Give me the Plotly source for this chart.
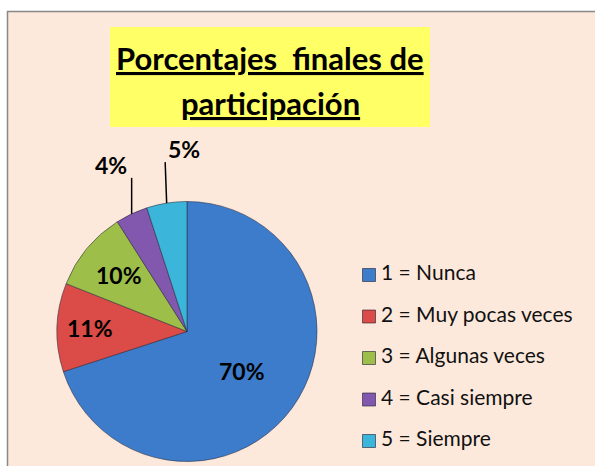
import math
import plotly.graph_objects as go

# Survey results: share of answers per frequency level
categories = ["1 = Nunca", "2 = Muy pocas veces", "3 = Algunas veces",
              "4 = Casi siempre", "5 = Siempre"]
percentages = [70, 11, 10, 4, 5]
slice_colors = ["#3D7CCB", "#DB4B47", "#9DBF4A", "#8257AE", "#3BB6DA"]
title_lines = ["Porcentajes  finales de", "participación"]

W, H = 595, 466
FONT = "Lato"

# pie geometry in pixels
cx, cy, r = 187, 331.5, 130

fig = go.Figure()

fig.add_trace(go.Pie(
    labels=categories,
    values=percentages,
    sort=False,
    direction="clockwise",
    rotation=0,
    marker=dict(colors=slice_colors, line=dict(color="rgba(40,40,60,0.55)", width=1)),
    textinfo="none",
    showlegend=False,
    hoverinfo="label+percent",
    domain=dict(x=[(cx - r) / W, (cx + r) / W],
                y=[(H - cy - r) / H, (H - cy + r) / H]),
))

# overlay axes in pixel units for legend and labels
fig.update_layout(
    xaxis=dict(range=[0, W], visible=False, fixedrange=True),
    yaxis=dict(range=[H, 0], visible=False, fixedrange=True),
)

# slice label positions derived from the values
label_font = dict(family=FONT, size=23, color="#000000")
total = sum(percentages)
cum = 0
inside_frac = {0: 0.52, 1: 0.75, 2: 0.68}
outside_len = {3: 36, 4: 41}
for i, v in enumerate(percentages):
    mid = (cum + v / 2) / total * 2 * math.pi
    cum += v
    sx, sy = math.sin(mid), -math.cos(mid)
    label = f"<b>{round(v / total * 100)}%</b>"
    if i in inside_frac:
        f = inside_frac[i]
        fig.add_annotation(x=cx + sx * r * f, y=cy + sy * r * f, xref="x", yref="y",
                           text=label, showarrow=False, font=label_font)
    else:
        ex, ey = cx + sx * r, cy + sy * r
        L = outside_len[i]
        tx, ty = (ex - 1.5 if i == 4 else ex), ey - L
        fig.add_shape(type="line", xref="x", yref="y", x0=ex, y0=ey, x1=tx, y1=ty,
                      line=dict(color="#000000", width=1.5))
        if i == 4:
            fig.add_annotation(x=tx + 1, y=ty + 3, xref="x", yref="y", xanchor="left",
                               yanchor="bottom", text=label, showarrow=False,
                               font=label_font)
        else:
            fig.add_annotation(x=tx - 3, y=ty + 3, xref="x", yref="y", xanchor="right",
                               yanchor="bottom", text=label, showarrow=False,
                               font=label_font)

# legend drawn as markers + text
leg_y = [275 + 41.5 * i for i in range(len(categories))]
fig.add_trace(go.Scatter(
    x=[369] * len(categories), y=leg_y, mode="markers",
    marker=dict(symbol="square", size=13, color=slice_colors,
                line=dict(color="rgba(30,30,50,0.6)", width=1)),
    showlegend=False, hoverinfo="skip",
))
fig.add_trace(go.Scatter(
    x=[381] * len(categories), y=leg_y, mode="text", text=categories,
    textposition="middle right",
    textfont=dict(family=FONT, size=21, color="#111111"),
    showlegend=False, hoverinfo="skip",
))

# chart area background and border
fig.add_shape(type="rect", xref="x", yref="y", x0=7.5, y0=11.5, x1=W + 10, y1=H + 10,
              fillcolor="#FDE9DB", line=dict(color="#888888", width=1.5), layer="below")

# title box with two underlined bold lines
fig.add_shape(type="rect", xref="x", yref="y", x0=110, y0=27, x1=430, y1=127,
              fillcolor="#FFFF66", line=dict(width=0), layer="below")
for k, t in enumerate(title_lines):
    fig.add_annotation(x=270, y=58 + 45 * k, xref="x", yref="y", showarrow=False,
                       text=f"<b><u>{t}</u></b>",
                       font=dict(family=FONT, size=31, color="#000000"))

fig.update_layout(
    width=W, height=H,
    margin=dict(l=0, r=0, t=0, b=0),
    paper_bgcolor="#FFFFFF",
    plot_bgcolor="rgba(0,0,0,0)",
)

fig.write_html("out.html")
